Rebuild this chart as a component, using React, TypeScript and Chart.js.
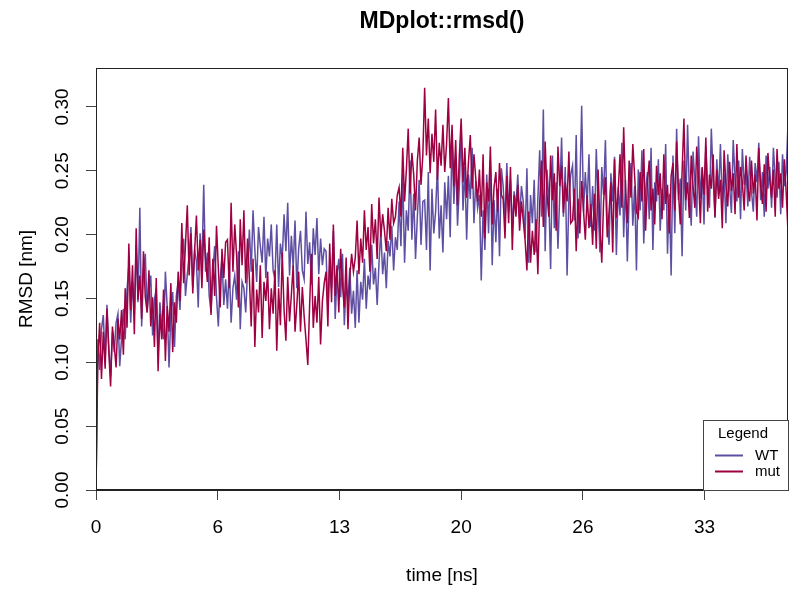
import React, { useEffect, useRef } from "react";
import { Chart, registerables } from "chart.js";

Chart.register(...registerables);

const FONT = '"Liberation Sans", Arial, Helvetica, sans-serif';
const TITLE = "MDplot::rmsd()";
const X_LABEL = "time [ns]";
const Y_LABEL = "RMSD [nm]";
const LEGEND_TITLE = "Legend";
const SERIES_NAMES = ["WT", "mut"];
const SERIES_COLORS = ["#5E4FA2", "#9E0142"];
const FRAME_STEP_NS = 0.1;
const X_MAX = 37.9;
const Y_MAX = 0.3305;
const X_TICK_VALUES = [0, 20 / 3, 40 / 3, 20, 80 / 3, 100 / 3];
const X_TICK_LABELS = ["0", "6", "13", "20", "26", "33"];
const Y_TICK_VALUES = [0, 0.05, 0.1, 0.15, 0.2, 0.25, 0.3];

const WT_RMSD = [
  0, .118, .094, .126, .137, .101, .145, .112, .089, .124,
  .108, .131, .138, .097, .119, .142, .118, .157, .176, .131,
  .163, .138, .192, .147, .221, .128, .171, .185, .139, .156,
  .168, .121, .149, .158, .104, .147, .128, .118, .171, .143,
  .096, .139, .155, .112, .152, .163, .141, .178, .197, .152,
  .169, .184, .206, .158, .188, .179, .143, .201, .174, .239,
  .171, .186, .152, .139, .172, .191, .151, .128, .164, .182,
  .145, .165, .142, .176, .131, .158, .168, .149, .187, .126,
  .163, .158, .139, .172, .204, .171, .219, .188, .163, .206,
  .191, .178, .214, .166, .197, .183, .208, .172, .165, .208,
  .159, .193, .181, .216, .187, .225, .168, .199, .174, .211,
  .158, .189, .203, .172, .165, .218, .177, .194, .161, .205,
  .184, .213, .169, .197, .176, .189, .187, .142, .176, .158,
  .203, .134, .169, .181, .151, .185, .129, .162, .147, .174,
  .138, .156, .127, .172, .131, .163, .149, .181, .142, .168,
  .157, .192, .161, .174, .145, .178, .203, .169, .186, .158,
  .195, .183, .207, .172, .198, .188, .226, .191, .247, .178,
  .219, .203, .258, .196, .232, .181, .214, .243, .192, .226,
  .227, .188, .249, .172, .236, .201, .218, .254, .197, .223,
  .186, .241, .212, .246, .198, .279, .224, .261, .207, .238,
  .285, .219, .253, .196, .247, .228, .268, .209, .242, .221,
  .231, .164, .219, .188, .247, .201, .258, .176, .227, .194,
  .236, .183, .252, .238, .209, .256, .218, .243, .204, .234,
  .221, .247, .212, .238, .226, .197, .252, .178, .231, .209,
  .243, .186, .228, .266, .214, .298, .187, .251, .228, .173,
  .262, .205, .241, .189, .232, .276, .214, .253, .168, .229,
  .247, .254, .211, .278, .197, .236, .301, .218, .249, .224,
  .263, .206, .238, .203, .267, .224, .186, .253, .231, .274,
  .209, .192, .248, .226, .261, .184, .237, .215, .272, .198,
  .243, .179, .229, .256, .207, .238, .172, .251, .219, .266,
  .193, .234, .249, .212, .268, .188, .241, .226, .259, .203,
  .236, .219, .271, .185, .232, .168, .262, .201, .283, .227,
  .244, .183, .258, .219, .286, .232, .207, .265, .241, .214,
  .277, .228, .252, .208, .269, .236, .221, .283, .245, .213,
  .259, .231, .271, .224, .248, .209, .263, .238, .217, .274,
  .243, .226, .258, .212, .267, .239, .251, .222, .261, .234,
  .218, .256, .241, .272, .227, .249, .214, .262, .236, .253,
  .221, .268, .244, .229, .257, .216, .263, .238, .249, .287,
];

const MUT_RMSD = [
  0, .102, .131, .087, .124, .095, .142, .109, .081, .128,
  .113, .096, .134, .118, .141, .106, .158, .127, .193, .141,
  .176, .122, .205, .149, .168, .134, .187, .151, .139, .172,
  .128, .151, .112, .166, .093, .138, .118, .157, .101, .144,
  .124, .162, .108, .147, .131, .171, .148, .209, .162, .192,
  .223, .168, .201, .154, .187, .215, .172, .196, .158, .204,
  .181, .163, .198, .137, .181, .152, .207, .174, .143, .189,
  .166, .194, .196, .158, .225, .171, .208, .184, .143, .212,
  .176, .219, .162, .197, .166, .128, .181, .112, .157, .139,
  .176, .119, .163, .148, .171, .126, .158, .138, .172, .109,
  .158, .129, .186, .141, .117, .167, .132, .153, .176, .124,
  .145, .171, .124, .159, .136, .118, .098, .145, .185, .127,
  .152, .131, .167, .114, .148, .162, .171, .128, .193, .147,
  .208, .152, .176, .139, .189, .161, .143, .182, .126, .167,
  .185, .171, .182, .211, .169, .197, .178, .219, .188, .206,
  .171, .224, .193, .212, .181, .229, .198, .216, .203, .187,
  .221, .196, .228, .209, .214, .231, .237, .214, .268, .226,
  .251, .283, .232, .264, .247, .219, .258, .276, .239, .262,
  .315, .262, .291, .248, .279, .257, .298, .243, .272, .254,
  .286, .249, .271, .307, .252, .286, .238, .274, .223, .262,
  .291, .241, .268, .229, .257, .278, .236, .263, .244, .226,
  .251, .214, .263, .197, .241, .226, .269, .208, .237, .249,
  .218, .256, .231, .228, .197, .246, .209, .253, .188, .231,
  .214, .239, .203, .226, .211, .196, .172, .218, .178, .203,
  .184, .212, .169, .224, .258, .206, .273, .232, .214, .262,
  .227, .248, .203, .269, .238, .254, .217, .241, .226, .265,
  .209, .211, .236, .187, .228, .201, .242, .219, .196, .231,
  .205, .224, .192, .232, .189, .251, .207, .178, .226, .245,
  .198, .218, .241, .186, .259, .213, .234, .263, .221, .284,
  .235, .209, .258, .229, .271, .246, .218, .214, .249, .226,
  .267, .203, .241, .258, .219, .236, .208, .254, .231, .248,
  .212, .263, .224, .239, .201, .246, .256, .219, .273, .234,
  .208, .249, .291, .227, .241, .213, .262, .238, .221, .269,
  .245, .209, .253, .231, .276, .218, .247, .236, .263, .214,
  .251, .228, .243, .205, .266, .239, .222, .257, .234, .248,
  .216, .271, .229, .253, .241, .219, .262, .237, .226, .258,
  .232, .247, .211, .268, .239, .224, .255, .218, .264, .243,
  .229, .251, .214, .267, .236, .248, .221, .259, .233, .202,
];

const decorPlugin = {
  id: "decor",
  afterDraw(chart: any) {
    const { ctx, chartArea: a, scales } = chart;
    ctx.save();
    // plot box
    ctx.strokeStyle = "#222";
    ctx.lineWidth = 1;
    ctx.strokeRect(a.left + 0.5, a.top + 0.5, a.right - a.left - 1, a.bottom - a.top);
    ctx.lineWidth = 2;
    ctx.beginPath();
    ctx.moveTo(a.left, a.bottom);
    ctx.lineTo(a.right, a.bottom);
    ctx.stroke();

    // title
    ctx.fillStyle = "#000";
    ctx.font = `bold 23px ${FONT}`;
    ctx.textAlign = "center";
    ctx.textBaseline = "middle";
    ctx.fillText(TITLE, (a.left + a.right) / 2, 22);

    // rotated y tick labels
    ctx.font = `19px ${FONT}`;
    for (const v of Y_TICK_VALUES) {
      const y = scales.y.getPixelForValue(v);
      ctx.save();
      ctx.translate(63, y);
      ctx.rotate(-Math.PI / 2);
      ctx.fillText(v.toFixed(2), 0, 0);
      ctx.restore();
    }

    // legend
    const lx = 703, ly = 420, lw = a.right - 703, lh = a.bottom - 420;
    ctx.fillStyle = "#fff";
    ctx.fillRect(lx, ly, lw, lh);
    ctx.strokeStyle = "#444";
    ctx.lineWidth = 1;
    ctx.strokeRect(lx + 0.5, ly + 0.5, lw, lh);
    ctx.fillStyle = "#000";
    ctx.font = `15px ${FONT}`;
    ctx.textAlign = "center";
    ctx.fillText(LEGEND_TITLE, 743, 434);
    const rows = [455.5, 471.5];
    SERIES_NAMES.forEach((name, i) => {
      ctx.strokeStyle = SERIES_COLORS[i];
      ctx.lineWidth = 2;
      ctx.beginPath();
      ctx.moveTo(715, rows[i]);
      ctx.lineTo(743, rows[i]);
      ctx.stroke();
      ctx.fillStyle = "#000";
      ctx.textAlign = "left";
      ctx.fillText(name, 755, rows[i]);
    });
    ctx.restore();
  },
};

export default function App() {
  const ref = useRef<HTMLCanvasElement>(null);

  useEffect(() => {
    if (!ref.current) return;
    Chart.defaults.font.family = FONT;
    const toPoints = (arr: number[]) => arr.map((y, i) => ({ x: i * FRAME_STEP_NS, y }));
    const chart = new Chart(ref.current, {
      type: "line",
      data: {
        datasets: [
          {
            label: SERIES_NAMES[0],
            data: toPoints(WT_RMSD),
            borderColor: SERIES_COLORS[0],
            borderWidth: 1.5,
            pointRadius: 0,
            tension: 0,
            order: 1,
          },
          {
            label: SERIES_NAMES[1],
            data: toPoints(MUT_RMSD),
            borderColor: SERIES_COLORS[1],
            borderWidth: 1.5,
            pointRadius: 0,
            tension: 0,
            order: 0,
          },
        ],
      },
      options: {
        animation: false,
        responsive: false,
        devicePixelRatio: 1,
        layout: { padding: { left: 0, right: 12, top: 68, bottom: 0 } },
        plugins: {
          legend: { display: false },
          title: { display: false },
          tooltip: { enabled: false },
        },
        scales: {
          x: {
            type: "linear",
            min: 0,
            max: X_MAX,
            afterBuildTicks: (axis: any) => {
              axis.ticks = X_TICK_VALUES.map((v) => ({ value: v }));
            },
            afterFit: (s: any) => {
              s.height = 108;
            },
            border: { display: false },
            grid: {
              drawOnChartArea: false,
              drawTicks: true,
              tickLength: 10,
              color: "#444",
            },
            ticks: {
              autoSkip: false,
              maxRotation: 0,
              minRotation: 0,
              padding: 16,
              color: "#000",
              font: { size: 19, family: FONT },
              callback: (_v: any, i: number) => X_TICK_LABELS[i],
            },
            title: {
              display: true,
              text: X_LABEL,
              color: "#000",
              font: { size: 19, family: FONT },
              padding: { top: 0, bottom: 11 },
            },
          },
          y: {
            type: "linear",
            min: 0,
            max: Y_MAX,
            afterBuildTicks: (axis: any) => {
              axis.ticks = Y_TICK_VALUES.map((v) => ({ value: v }));
            },
            afterFit: (s: any) => {
              s.width = 96;
            },
            border: { display: false },
            grid: {
              drawOnChartArea: false,
              drawTicks: true,
              tickLength: 10,
              color: "#444",
            },
            ticks: {
              color: "rgba(0,0,0,0)",
              font: { size: 19, family: FONT },
            },
            title: {
              display: true,
              text: Y_LABEL,
              color: "#000",
              font: { size: 19, family: FONT },
              padding: { top: 15, bottom: 0 },
            },
          },
        },
      },
      plugins: [decorPlugin],
    });
    return () => chart.destroy();
  }, []);

  return (
    <div style={{ position: "fixed", left: 0, top: 0, width: 800, height: 598, background: "#fff" }}>
      <canvas ref={ref} width={800} height={598} style={{ display: "block" }} />
    </div>
  );
}
